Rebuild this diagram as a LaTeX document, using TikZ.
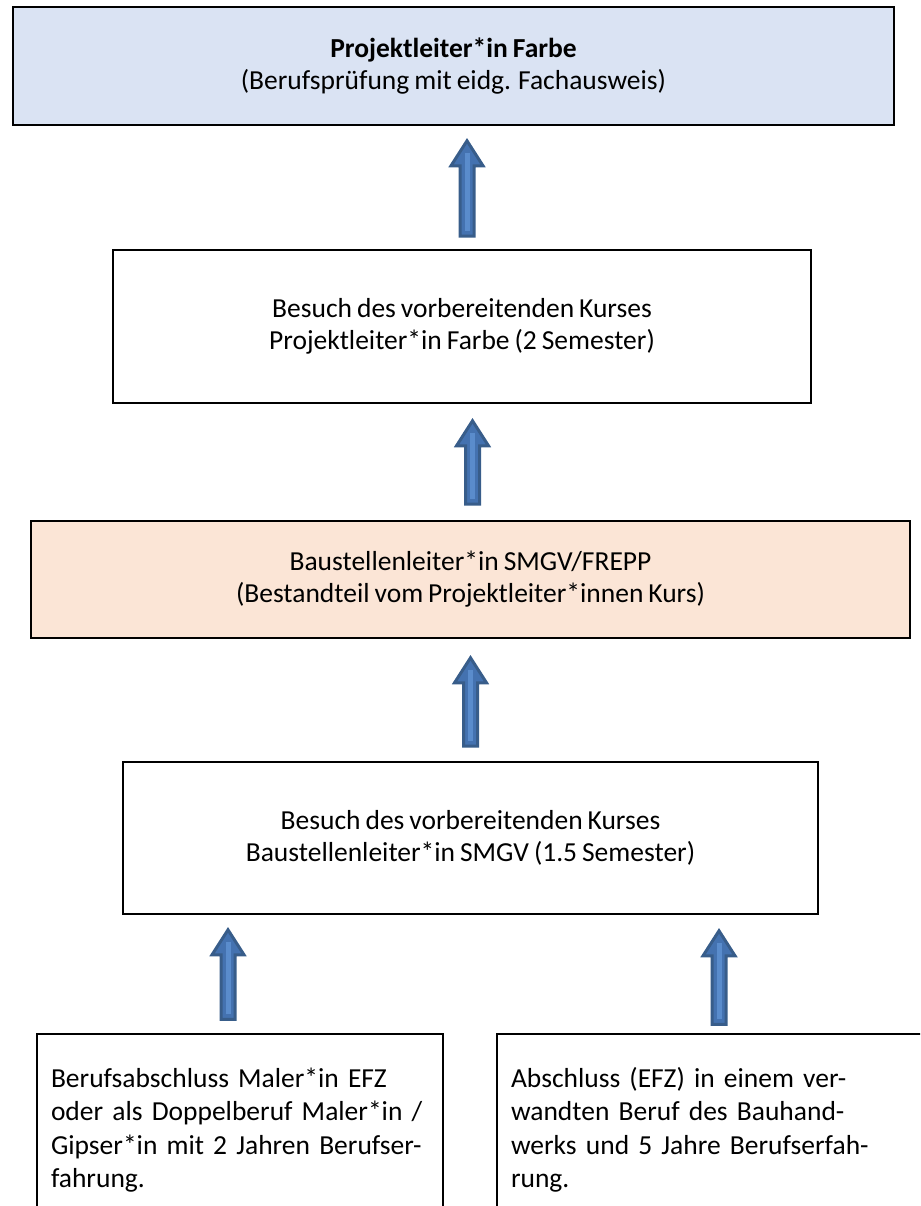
\documentclass[tikz,border=0pt]{standalone}
\usepackage{fontspec}
\setmainfont{Carlito}[WordSpace=0.8]
\usepackage{tikz}
\usetikzlibrary{calc,positioning}
\definecolor{plblue}{RGB}{218,227,243}
\definecolor{blsalmon}{RGB}{251,229,214}
\definecolor{arrowfill}{RGB}{68,114,176}
\definecolor{arrowedge}{RGB}{56,93,138}
\definecolor{arrowlight}{RGB}{90,140,204}
\tikzset{
  stufe/.style={
    rectangle,
    draw=black, line width=1.6pt,
    align=center,
    font=\fontsize{27.5}{32}\selectfont,
    inner sep=0pt},
  zulassung/.style={
    rectangle,
    draw=black, line width=1.4pt,
    align=left,
    inner xsep=14pt,
    minimum height=192pt,
    font=\fontsize{27.5}{33.5}\selectfont},
  pfeil/.style={
    fill=arrowfill, draw=arrowedge, line width=3pt, line join=miter},
  pfeillicht/.style={
    draw=arrowlight, line width=5pt},
}
% block arrow, straight up from the x of the tail
\newcommand{\blockarrow}[2]{%
  \path[pfeil] let \p1=(#1), \p2=(#2) in
    (\x1-7pt,\y1) -- (\x1+7pt,\y1) -- (\x1+7pt,\y2-27pt) -- (\x1+16pt,\y2-27pt)
    -- (\x1,\y2-2pt) -- (\x1-16pt,\y2-27pt) -- (\x1-7pt,\y2-27pt) -- cycle;
  \path[pfeillicht] let \p1=(#1), \p2=(#2) in
    (\x1,\y1+5pt) -- (\x1,\y2-14pt);}

\begin{document}
\begin{tikzpicture}[x=1pt,y=-1pt]
    \useasboundingbox (0,0) rectangle (920,1206);
    \clip (0,0) rectangle (920,1206);

    \node[stufe, fill=plblue, minimum width=881pt, minimum height=118pt] (pl) at (453.5,66)
        {\textbf{Projektleiter*in Farbe}\\(Berufsprüfung mit eidg. Fachausweis)};

    \node[stufe, minimum width=698pt, minimum height=153pt] (kurs1) at (462,326.5)
        {Besuch des vorbereitenden Kurses\\Projektleiter*in Farbe (2 Semester)};

    \node[stufe, fill=blsalmon, minimum width=879pt, minimum height=117pt] (bl) at (470.5,579.5)
        {Baustellenleiter*in SMGV/FREPP\\(Bestandteil vom Projektleiter*innen Kurs)};

    \node[stufe, minimum width=695pt, minimum height=152pt] (kurs2) at (470.5,838)
        {Besuch des vorbereitenden Kurses\\Baustellenleiter*in SMGV (1.5 Semester)};

    \node[zulassung, text width=378pt] (maler) at (240,1130)
        {\mbox{Berufsabschluss Maler*in EFZ}\\\mbox{oder als Doppelberuf Maler*in /}\\
         \mbox{Gipser*in mit 2 Jahren Berufser-}\\\mbox{fahrung.}};

    \node[zulassung, text width=410pt] (verwandt) at (716,1130)
        {\mbox{Abschluss (EFZ) in einem ver-}\\\mbox{wandten Beruf des Bauhand-}\\
         \mbox{werks und 5 Jahre Berufserfah-}\\\mbox{rung.}};

    \blockarrow{$(kurs1.north)+(5,-13)$}{$(pl.south)+(0,13)$}
    \blockarrow{$(bl.north)+(2,-16)$}{$(kurs1.south)+(0,15)$}
    \blockarrow{$(kurs2.north)+(0,-15)$}{$(bl.south)+(0,17)$}
    \blockarrow{$(maler.north)+(-12,-14)$}{$(kurs2.south)+(0,13)$}
    \blockarrow{$(verwandt.north)+(3,-9)$}{$(kurs2.south)+(0,14)$}
\end{tikzpicture}
\end{document}
